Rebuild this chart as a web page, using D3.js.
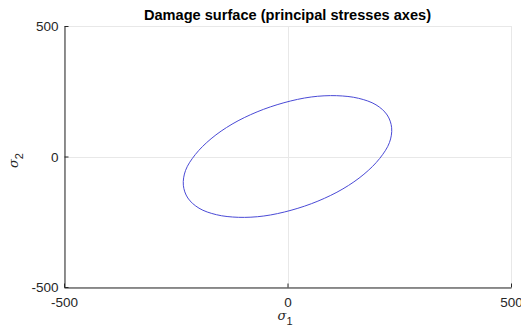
<!DOCTYPE html>
<html>
<head>
<meta charset="utf-8">
<script src="https://cdn.jsdelivr.net/npm/d3@7"></script>
<style>
    html, body { margin: 0; padding: 0; background: #fff; }
    svg { display: block; font-family: "Liberation Sans", Arial, sans-serif; }
</style>
</head>
<body>
<div id="chart"></div>
<script>
// points read around the damage surface (principal stresses)
const sigma1 = [198, 159, 110, 53, -8, -68, -124, -171, -206, -228, -233, -223, -198, -159, -110, -53, 8, 68, 124, 171, 206, 228, 233, 223];
const sigma2 = [198, 223, 233, 228, 206, 171, 124, 68, 8, -53, -110, -159, -198, -223, -233, -228, -206, -171, -124, -68, -8, 53, 110, 159];

const xTicks = [-500, 0, 500];
const yTicks = [-500, 0, 500];
const title = "Damage surface (principal stresses axes)";

const width = 521, height = 334;
const margin = { left: 64, right: 10, top: 26, bottom: 47 };

const svg = d3.select("#chart").append("svg")
    .attr("width", width)
    .attr("height", height);

const x = d3.scaleLinear().domain([-500, 500]).range([margin.left, width - margin.right]);
const y = d3.scaleLinear().domain([-500, 500]).range([height - margin.bottom, margin.top]);

// grid
const grid = svg.append("g").attr("stroke", "#e8e8e8").attr("stroke-width", 1);
grid.selectAll("line.gx")
    .data(xTicks)
    .join("line")
    .attr("x1", d => Math.round(x(d)) + 0.5)
    .attr("x2", d => Math.round(x(d)) + 0.5)
    .attr("y1", y(-500))
    .attr("y2", y(500));
grid.selectAll("line.gy")
    .data(yTicks)
    .join("line")
    .attr("y1", d => Math.round(y(d)) + 0.5)
    .attr("y2", d => Math.round(y(d)) + 0.5)
    .attr("x1", x(-500))
    .attr("x2", x(500));

// curve
const pts = sigma1.map((s, i) => [s, sigma2[i]]);
const line = d3.line()
    .x(d => x(d[0]))
    .y(d => y(d[1]))
    .curve(d3.curveCatmullRomClosed.alpha(0.5));

svg.append("path")
    .datum(pts)
    .attr("d", line)
    .attr("fill", "none")
    .attr("stroke", "#4a4ad6")
    .attr("stroke-width", 1);

// axes
const fmt = d => String(d);
const xAxis = d3.axisBottom(x).tickValues(xTicks).tickFormat(fmt).tickSizeInner(-4).tickSizeOuter(0);
const yAxis = d3.axisLeft(y).tickValues(yTicks).tickFormat(fmt).tickSizeInner(-4).tickSizeOuter(0);

const gx = svg.append("g")
    .attr("transform", `translate(0,${Math.round(y(-500)) + 0.5})`)
    .call(xAxis);
const gy = svg.append("g")
    .attr("transform", `translate(${Math.round(x(-500)) + 0.5},0)`)
    .call(yAxis);

[gx, gy].forEach(g => {
    g.select(".domain").attr("stroke", "#262626");
    g.selectAll(".tick line").attr("stroke", "#262626");
    g.selectAll(".tick text")
        .attr("fill", "#262626")
        .attr("font-size", 13.5)
        .attr("font-family", "Liberation Sans, Arial, sans-serif");
});
gx.selectAll(".tick text").attr("dy", null).attr("y", 19.5);
gy.selectAll(".tick text").attr("x", -6).attr("dy", "0.36em");

// title
svg.append("text")
    .attr("x", x(0))
    .attr("y", 20)
    .attr("text-anchor", "middle")
    .attr("font-size", 14.6)
    .attr("font-weight", "bold")
    .attr("fill", "#000")
    .text(title);

// x label
const xl = svg.append("text")
    .attr("x", x(0) - 10)
    .attr("y", 320)
    .attr("font-size", 13)
    .attr("fill", "#262626");
xl.append("tspan").attr("font-style", "italic").attr("font-family", "DejaVu Serif, serif").text("σ");
xl.append("tspan").attr("font-size", 11).attr("dy", 5).text("1");

// y label
const yl = svg.append("text")
    .attr("transform", `translate(18,168) rotate(-90)`)
    .attr("font-size", 13)
    .attr("fill", "#262626");
yl.append("tspan").attr("font-style", "italic").attr("font-family", "DejaVu Serif, serif").text("σ");
yl.append("tspan").attr("font-size", 11).attr("dy", 5).text("2");
</script>
</body>
</html>
